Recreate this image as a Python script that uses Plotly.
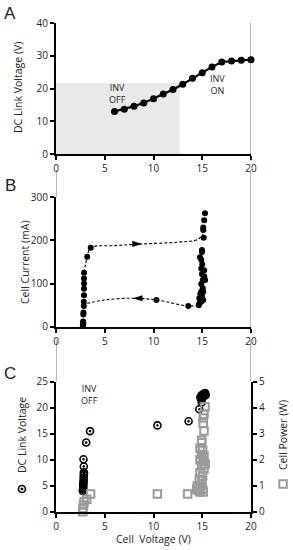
import plotly.graph_objects as go

W, H = 293, 550

# ---------------- Data ----------------
# Panel A: DC link voltage vs cell voltage
a_x = [6, 7, 8, 9, 10, 11, 12, 13, 14, 15, 16, 17, 18, 19, 20]
a_y = [13.0, 13.7, 14.6, 15.6, 16.9, 18.3, 19.7, 21.3, 23.1, 24.8, 26.6, 28.1, 28.4, 28.6, 28.8]
a_shade_x = [0, 12.7]
a_shade_y = [0, 21.7]

# Panel B: cell current vs cell voltage
b_left_x = [2.75, 2.78, 2.8, 2.78, 2.8, 2.82, 2.85, 2.85, 2.87, 2.87, 2.88, 2.87, 2.88]
b_left_y = [2, 5, 8, 12, 28, 33, 48, 58, 73, 88, 100, 112, 125]
b_mid_x = [3.2, 3.56, 10.3, 13.57]
b_mid_y = [162, 183, 62, 48]
b_right_x = [15.28, 15.2, 15.1, 15.1, 15.15, 14.97, 14.97, 14.77, 14.9, 15.0, 14.9, 15.2,
             14.97, 15.2, 15.05, 15.3, 14.9, 15.05, 14.9, 15.1, 14.8, 14.97, 14.7, 14.9,
             15.1, 14.7, 14.9, 14.65]
b_right_y = [263, 247, 230, 224, 206, 178, 173, 161, 155, 145, 135, 131, 122, 117, 108,
             108, 99, 89, 81, 81, 76, 71, 66, 62, 62, 54, 58, 50]
b_up_x = [2.88, 3.2, 3.56, 6.0, 9.0, 12.5, 14.5, 15.1]
b_up_y = [125, 162, 183, 188, 192, 196, 202, 215]
b_down_x = [14.65, 13.57, 10.3, 7.9, 5.0, 2.85]
b_down_y = [50, 48, 62, 66, 62, 52]
arrow_x = [8.8, 7.9]
arrow_y = [192, 66]
arrow_angle = [90, -90]

# Panel C: DC link voltage (left) and cell power (right) vs cell voltage
c_v_x = [2.75, 2.78, 2.8, 2.78, 2.82, 2.8, 2.85, 2.83, 2.85, 2.87, 2.86, 2.85, 2.82,
         3.1, 3.49, 10.4, 13.6, 14.7, 14.95,
         14.8, 14.9, 15.0, 15.1, 15.2, 15.3, 15.0, 15.1, 15.2, 14.9, 15.0, 15.2, 15.3, 15.35]
c_v_y = [4.0, 4.3, 4.6, 5.0, 5.3, 5.6, 6.0, 6.5, 7.0, 7.3, 7.6, 8.7, 10.1,
         13.3, 15.5, 16.6, 17.4, 19.7, 21.0,
         22.0, 22.3, 22.5, 22.6, 22.7, 22.8, 22.2, 22.4, 22.5, 21.6, 21.9, 22.3, 22.6, 22.4]
c_p_x = [2.75, 2.77, 2.82, 2.88, 3.15, 3.55, 10.4, 13.5,
         15.28, 15.18, 15.1, 15.1, 15.18, 14.94, 14.94, 14.77, 15.04, 14.94, 15.18,
         14.77, 15.1, 15.3, 14.94, 15.18, 14.77, 15.04, 14.7, 14.98, 14.94, 14.5,
         14.77, 14.6, 15.04, 14.77, 15.1, 14.43]
c_p_y = [0.0, 0.13, 0.26, 0.38, 0.48, 0.68, 0.68, 0.68,
         4.04, 3.75, 3.6, 3.4, 3.1, 2.75, 2.65, 2.43, 2.36, 2.2, 2.15,
         2.0, 1.96, 1.83, 1.77, 1.64, 1.5, 1.38, 1.25, 1.2, 1.07, 0.99,
         0.95, 0.82, 0.85, 0.76, 0.76, 0.87]

# ---------------- Layout helpers ----------------
FONT = "Open Sans"
XD = [56 / W, 251 / W]


def py(p):
    return 1 - p / H


DOM_A = [py(154), py(23)]
DOM_B = [py(326.7), py(197.3)]
DOM_C = [py(511.7), py(381.7)]

axis_common = dict(showline=True, linecolor="black", linewidth=2, ticks="outside",
                   ticklen=4, tickwidth=1.5, tickcolor="black", showgrid=False,
                   zeroline=False, automargin=False,
                   tickfont=dict(family=FONT, size=10, color="#222"))

fig = go.Figure()

# Panel A
fig.add_trace(go.Scatter(x=a_x, y=a_y, mode="lines+markers", xaxis="x", yaxis="y",
                         line=dict(color="black", width=2.2),
                         marker=dict(color="black", size=7), cliponaxis=False,
                         showlegend=False))

# Panel B dashed loops
fig.add_trace(go.Scatter(x=b_up_x, y=b_up_y, mode="lines", xaxis="x2", yaxis="y2",
                         line=dict(color="black", width=1.1, dash="3px,2px", shape="spline"),
                         showlegend=False))
fig.add_trace(go.Scatter(x=b_down_x, y=b_down_y, mode="lines", xaxis="x2", yaxis="y2",
                         line=dict(color="black", width=1.1, dash="3px,2px", shape="spline"),
                         showlegend=False))
fig.add_trace(go.Scatter(x=arrow_x, y=arrow_y, mode="markers", xaxis="x2", yaxis="y2",
                         marker=dict(symbol="arrow", angle=arrow_angle, size=10, color="black"),
                         showlegend=False))
for xs, ys in [(b_left_x, b_left_y), (b_mid_x, b_mid_y), (b_right_x, b_right_y)]:
    fig.add_trace(go.Scatter(x=xs, y=ys, mode="markers", xaxis="x2", yaxis="y2",
                             marker=dict(color="black", size=6), cliponaxis=False,
                             showlegend=False))

# Panel C
SQ = dict(symbol="square-open", size=7.5, color="#9a9a9a", line=dict(width=2, color="#9a9a9a"))
CD = dict(symbol="circle-open-dot", size=7, color="black", line=dict(width=1.6, color="black"))
fig.add_trace(go.Scatter(x=c_p_x, y=c_p_y, mode="markers", xaxis="x3", yaxis="y4",
                         marker=SQ, cliponaxis=False, showlegend=False))
fig.add_trace(go.Scatter(x=c_v_x, y=c_v_y, mode="markers", xaxis="x3", yaxis="y3",
                         marker=CD, cliponaxis=False, showlegend=False))

# Shapes: grey shading and connecting guide lines
shapes = [dict(type="rect", xref="x", yref="y", x0=a_shade_x[0], x1=a_shade_x[1],
               y0=a_shade_y[0], y1=a_shade_y[1], fillcolor="#e9e9e9",
               line=dict(width=0), layer="below")]
grey = dict(color="#a0a0a0", width=1.5)
for xv, p0, p1 in [(0, 170, 197.3), (0, 340, 381.7), (20, 23, 154),
                   (20, 170, 326.7), (20, 340, 381.7)]:
    shapes.append(dict(type="line", xref="x", yref="paper", x0=xv, x1=xv,
                       y0=py(p0), y1=py(p1), line=grey, layer="below"))

ann = []


def txt(x, y, s, size=10.5, xref="paper", yref="paper", angle=0, family=FONT, color="#222"):
    ann.append(dict(x=x, y=y, xref=xref, yref=yref, text=s, showarrow=False,
                    textangle=angle, font=dict(family=family, size=size, color=color),
                    xanchor="center", yanchor="middle"))


# Panel letters
txt(10 / W, py(13), "A", size=17, family="Liberation Sans")
txt(10 / W, py(186), "B", size=17, family="Liberation Sans")
txt(10 / W, py(373), "C", size=17, family="Liberation Sans")
# Axis titles
txt(18 / W, py(88), "DC Link Voltage (V)", angle=-90)
txt(25 / W, py(262), "Cell Current (mA)", angle=-90)
txt(22 / W, py(435), "DC Link Voltage", angle=-90)
txt(283 / W, py(435), "Cell Power (W)", angle=-90)
txt(153 / W, py(539), "Cell  Voltage (V)")
# In-plot labels
txt(6.26, 18.5, "INV<br>OFF", size=9, xref="x", yref="y")
txt(16.6, 21.1, "INV<br>ON", size=9, xref="x", yref="y")
txt(3.4, 22.6, "INV<br>OFF", size=9, xref="x3", yref="y3")
txt(15.2, 26.5, "INV<br>ON", size=9, xref="x3", yref="y3")

# Legend-like marker glyphs next to titles in panel C
fig.add_trace(go.Scatter(x=[22 / W], y=[py(489)], mode="markers", xaxis="x5", yaxis="y5",
                         marker=CD, showlegend=False))
fig.add_trace(go.Scatter(x=[283 / W], y=[py(484)], mode="markers", xaxis="x5", yaxis="y5",
                         marker=SQ, showlegend=False))

xt = dict(range=[0, 20], tickvals=[0, 5, 10, 15, 20], domain=XD, **axis_common)
fig.update_layout(
    width=W, height=H, margin=dict(l=0, r=0, t=0, b=0),
    paper_bgcolor="white", plot_bgcolor="rgba(0,0,0,0)",
    xaxis=dict(anchor="y", **xt),
    yaxis=dict(anchor="x", domain=DOM_A, range=[0, 40], tickvals=[0, 10, 20, 30, 40], **axis_common),
    xaxis2=dict(anchor="y2", **xt),
    yaxis2=dict(anchor="x2", domain=DOM_B, range=[0, 300], tickvals=[0, 100, 200, 300], **axis_common),
    xaxis3=dict(anchor="y3", **xt),
    yaxis3=dict(anchor="x3", domain=DOM_C, range=[0, 25], tickvals=[0, 5, 10, 15, 20, 25], **axis_common),
    yaxis4=dict(anchor="x3", overlaying="y3", side="right", range=[0, 5],
                tickvals=[0, 1, 2, 3, 4, 5], **axis_common),
    xaxis5=dict(domain=[0, 1], range=[0, 1], visible=False, anchor="y5", automargin=False),
    yaxis5=dict(domain=[0, 1], range=[0, 1], visible=False, anchor="x5", automargin=False),
    shapes=shapes, annotations=ann,
)

fig.write_html("out.html", config={"displayModeBar": False},
               post_script="document.body.style.margin='0';document.body.style.overflow='hidden';")
